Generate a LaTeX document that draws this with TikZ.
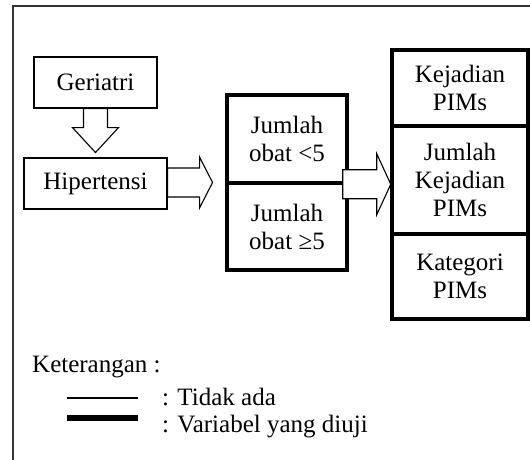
\documentclass[tikz,border=0pt]{standalone}
\usepackage{fontspec}
\setmainfont{Liberation Serif}
\usetikzlibrary{calc}

\begin{document}
\begin{tikzpicture}[x=1pt,y=1pt,yscale=-1,xscale=1,
  every node/.style={font=\fontsize{25}{28}\selectfont},
  thinbox/.style={draw,line width=1.1pt,inner sep=0pt,align=center},
  thickbox/.style={draw,line width=3.5pt,inner sep=0pt,align=center},
  blockarrow/.style={draw,line width=1.1pt,fill=white,line join=miter},
  note/.style={anchor=base west,inner sep=0pt}]
\useasboundingbox (0,0) rectangle (530,460);
\clip (0,0) rectangle (530,460);
% frame
\draw[line width=1.3pt,black!80] (13,6) rectangle (560,490);
% left column
\node[thinbox,minimum width=123pt,minimum height=51pt] (geriatri) at (95.5,82.5) {Geriatri};
\node[thinbox,minimum width=143pt,minimum height=51pt] (hipertensi) at (95.5,183.5) {Hipertensi};
% jumlah obat
\node[thickbox,minimum width=120pt,minimum height=88pt] (obatA) at (287,139) {Jumlah\\obat <5};
\node[thickbox,minimum width=120pt,minimum height=87pt] (obatB) at (287,226.5) {Jumlah\\obat ≥5};
% PIMs
\node[thickbox,minimum width=136pt,minimum height=76pt] (pimsA) at (460,88) {Kejadian\\PIMs};
\node[thickbox,minimum width=136pt,minimum height=108pt] (pimsB) at (460,180) {Jumlah\\Kejadian\\PIMs};
\node[thickbox,minimum width=136pt,minimum height=85pt] (pimsC) at (460,276.5) {Kategori\\PIMs};
% arrows
\draw[blockarrow] ($(geriatri.south)+(-12,0)$) -- ++(0,19) -- ++(-11,0) -- ++(23,25) -- ++(23,-25) -- ++(-11,0) -- ++(0,-19) -- cycle;
\draw[blockarrow] ($(hipertensi.east)+(0,-15.5)$) -- ++(32,0) -- ++(0,-11) -- ++(13,25.5) -- ++(-13,25.5) -- ++(0,-11) -- ++(-32,0) -- cycle;
\draw[blockarrow] ($(obatA.south east)+(-6,-15)$) -- ++(34,0) -- ++(0,-16) -- ++(14,30.5) -- ++(-14,30.5) -- ++(0,-16) -- ++(-34,0) -- cycle;
% keterangan
\node[note] (ket) at (32,372) {Keterangan :};
\node[note] (tidak) at (162,405) {: Tidak ada};
\node[note] (variabel) at (162,432) {: Variabel yang diuji};
\draw[line width=1.3pt] ($(tidak.base west)+(-95,-7)$) -- ++(71,0);
\draw[line width=6pt] ($(variabel.base west)+(-95,-14)$) -- ++(71,0);
\end{tikzpicture}
\end{document}
